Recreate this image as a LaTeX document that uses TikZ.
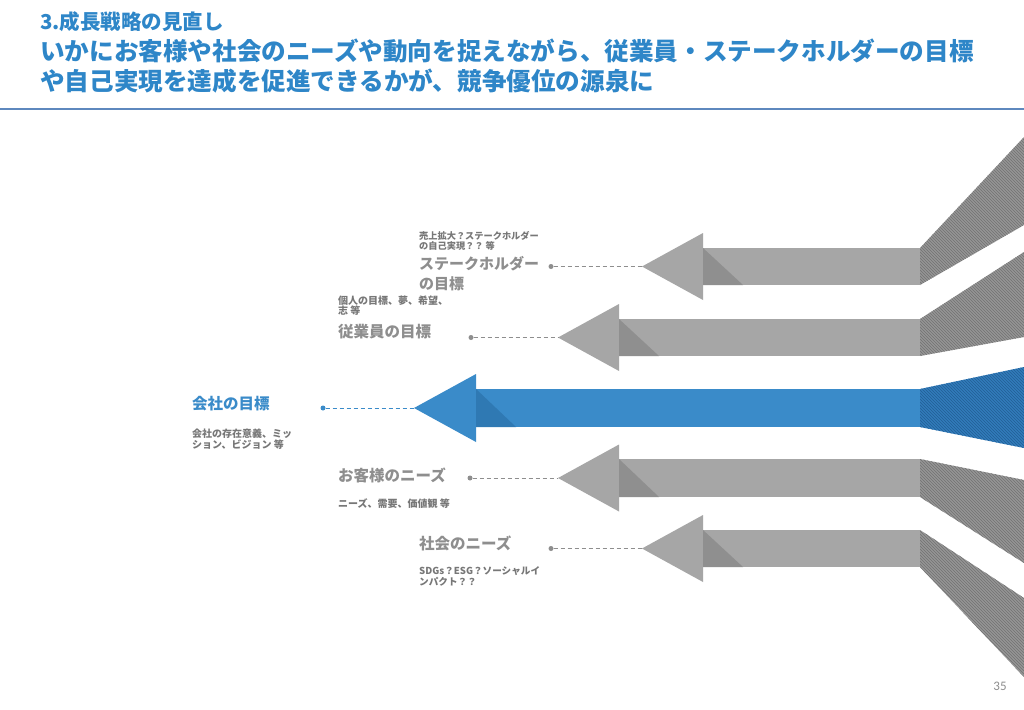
\documentclass[tikz,border=0pt]{standalone}
\usepackage{fontspec}
\setmainfont{Noto Sans CJK JP}
\newfontfamily\pagenumfont{Carlito}
\usetikzlibrary{patterns}

\definecolor{titleblue}{HTML}{2E86C8}
\definecolor{rulecol}{HTML}{5E88BE}
\definecolor{armgray}{HTML}{A6A6A6}
\definecolor{armdark}{HTML}{8F8F8F}
\definecolor{fangray}{HTML}{959595}
\definecolor{fanline}{HTML}{727272}
\definecolor{armblue}{HTML}{3A8BC9}
\definecolor{armbluedark}{HTML}{2F79B3}
\definecolor{fanblue}{HTML}{327CBB}
\definecolor{fanblueline}{HTML}{225F96}
\definecolor{labgray}{HTML}{8E8E8E}
\definecolor{notegray}{HTML}{777777}

\tikzset{
	shaftg/.style={fill=armgray},
	shaftb/.style={fill=armblue},
	darkg/.style={fill=armdark},
	darkb/.style={fill=armbluedark},
	fang/.style={fill=fangray, postaction={pattern=north west lines, pattern color=fanline}},
	fanb/.style={fill=fanblue, postaction={pattern=north west lines, pattern color=fanblueline}},
	dotg/.style={circle, fill=labgray, inner sep=0pt, minimum size=5pt},
	dotb/.style={circle, fill=armblue, inner sep=0pt, minimum size=5pt},
	dashg/.style={draw=labgray, line width=1pt, dash pattern=on 4pt off 3pt},
	dashb/.style={draw=armblue, line width=1pt, dash pattern=on 4pt off 3pt},
	biglab/.style={anchor=north west, inner sep=0pt, align=left, text=labgray, font=\bfseries\fontsize{15}{20}\selectfont},
	smalllab/.style={anchor=north west, inner sep=0pt, align=left, text=notegray, font=\bfseries\fontsize{10}{11}\selectfont}
}

\begin{document}
\begin{tikzpicture}[x=1pt,y=-1pt]

	\useasboundingbox[fill=white] (0,0) rectangle (1024,709);

	% header
	\node[anchor=north west, inner sep=0pt, text=titleblue, font=\bfseries\fontsize{20.5}{24}\selectfont] (sub) at (40,11) {3.成長戦略の見直し};
	\node[anchor=north west, inner sep=0pt, align=left, text=titleblue, font=\bfseries\fontsize{24.6}{30}\selectfont] (title) at (40,39)
		{いかにお客様や社会のニーズや動向を捉えながら、従業員・ステークホルダーの目標\\や自己実現を達成を促進できるかが、競争優位の源泉に};
	\draw[rulecol, line width=2pt] (0,109) -- (1024,109);

	% fans at the right edge
	\path[fang] (920,248) -- (1024,137) -- (1024,225) -- (920,285) -- cycle;
	\path[fang] (920,319) -- (1024,252) -- (1024,337) -- (920,356) -- cycle;
	\path[fanb] (920,389) -- (1024,367) -- (1024,448) -- (920,427) -- cycle;
	\path[fang] (920,459) -- (1024,480) -- (1024,563) -- (920,497) -- cycle;
	\path[fang] (920,530) -- (1024,598) -- (1024,677) -- (920,567) -- cycle;

	% stakeholder arrow
	\fill[shaftg] (703,248) rectangle (920,285);
	\fill[shaftg] (642,266.5) -- (703,233) -- (703,300) -- cycle;
	\fill[darkg] (703,248) -- (703,285) -- (743,285) -- cycle;
	\coordinate (sttip) at (642,266.5);

	% employee arrow
	\fill[shaftg] (619,319) rectangle (920,356);
	\fill[shaftg] (558,337.5) -- (619,304) -- (619,371) -- cycle;
	\fill[darkg] (619,319) -- (619,356) -- (659,356) -- cycle;
	\coordinate (emtip) at (558,337.5);

	% company arrow
	\fill[shaftb] (476,389) rectangle (920,427);
	\fill[shaftb] (414,408) -- (476,374) -- (476,442) -- cycle;
	\fill[darkb] (476,389) -- (476,427) -- (516,427) -- cycle;
	\coordinate (cotip) at (414,408);

	% customer arrow
	\fill[shaftg] (619,459) rectangle (920,497);
	\fill[shaftg] (558,478) -- (619,444.5) -- (619,511.5) -- cycle;
	\fill[darkg] (619,459) -- (619,497) -- (659,497) -- cycle;
	\coordinate (cutip) at (558,478);

	% society arrow
	\fill[shaftg] (703,530) rectangle (920,567);
	\fill[shaftg] (642,548.5) -- (703,515) -- (703,582) -- cycle;
	\fill[darkg] (703,530) -- (703,567) -- (743,567) -- cycle;
	\coordinate (sotip) at (642,548.5);

	% dots and leaders
	\node[dotg] (stdot) at (551,266.5) {};
	\node[dotg] (emdot) at (471,337.5) {};
	\node[dotb] (codot) at (323,408) {};
	\node[dotg] (cudot) at (470,478) {};
	\node[dotg] (sodot) at (551,548.5) {};
	\draw[dashg] (stdot) -- (sttip);
	\draw[dashg] (emdot) -- (emtip);
	\draw[dashb] (codot) -- (cotip);
	\draw[dashg] (cudot) -- (cutip);
	\draw[dashg] (sodot) -- (sotip);

	% labels
	\node[smalllab, font=\bfseries\fontsize{9.2}{10.5}\selectfont] (stnote) at (419,231) {売上拡大？ステークホルダー\\の自己実現？？ 等};
	\node[biglab] (stlab) at (419,256) {ステークホルダー\\の目標};
	\node[smalllab, font=\bfseries\fontsize{10}{10}\selectfont] (emnote) at (338,295.5) {個人の目標、夢、希望、\\志 等};
	\node[biglab, font=\bfseries\fontsize{15.5}{20}\selectfont] (emlab) at (338,324) {従業員の目標};
	\node[biglab, text=armblue, font=\bfseries\fontsize{15.5}{20}\selectfont] (colab) at (192,396) {会社の目標};
	\node[smalllab, font=\bfseries\fontsize{10}{11.3}\selectfont] (conote) at (192,428.5) {会社の存在意義、ミッ\\ション、ビジョン 等};
	\node[biglab, font=\bfseries\fontsize{15.5}{20}\selectfont] (culab) at (338,468) {お客様のニーズ};
	\node[smalllab] (cunote) at (338,498.5) {ニーズ、需要、価値観 等};
	\node[biglab, font=\bfseries\fontsize{15.5}{20}\selectfont] (solab) at (419,536) {社会のニーズ};
	\node[smalllab, font=\bfseries\fontsize{9.6}{11}\selectfont] (sonote) at (419,566.5) {SDGs？ESG？ソーシャルイ\\ンパクト？？};

	\node[text=labgray, font=\pagenumfont\fontsize{13}{15}\selectfont] (pagenum) at (1000,686) {35};
\end{tikzpicture}
\end{document}
